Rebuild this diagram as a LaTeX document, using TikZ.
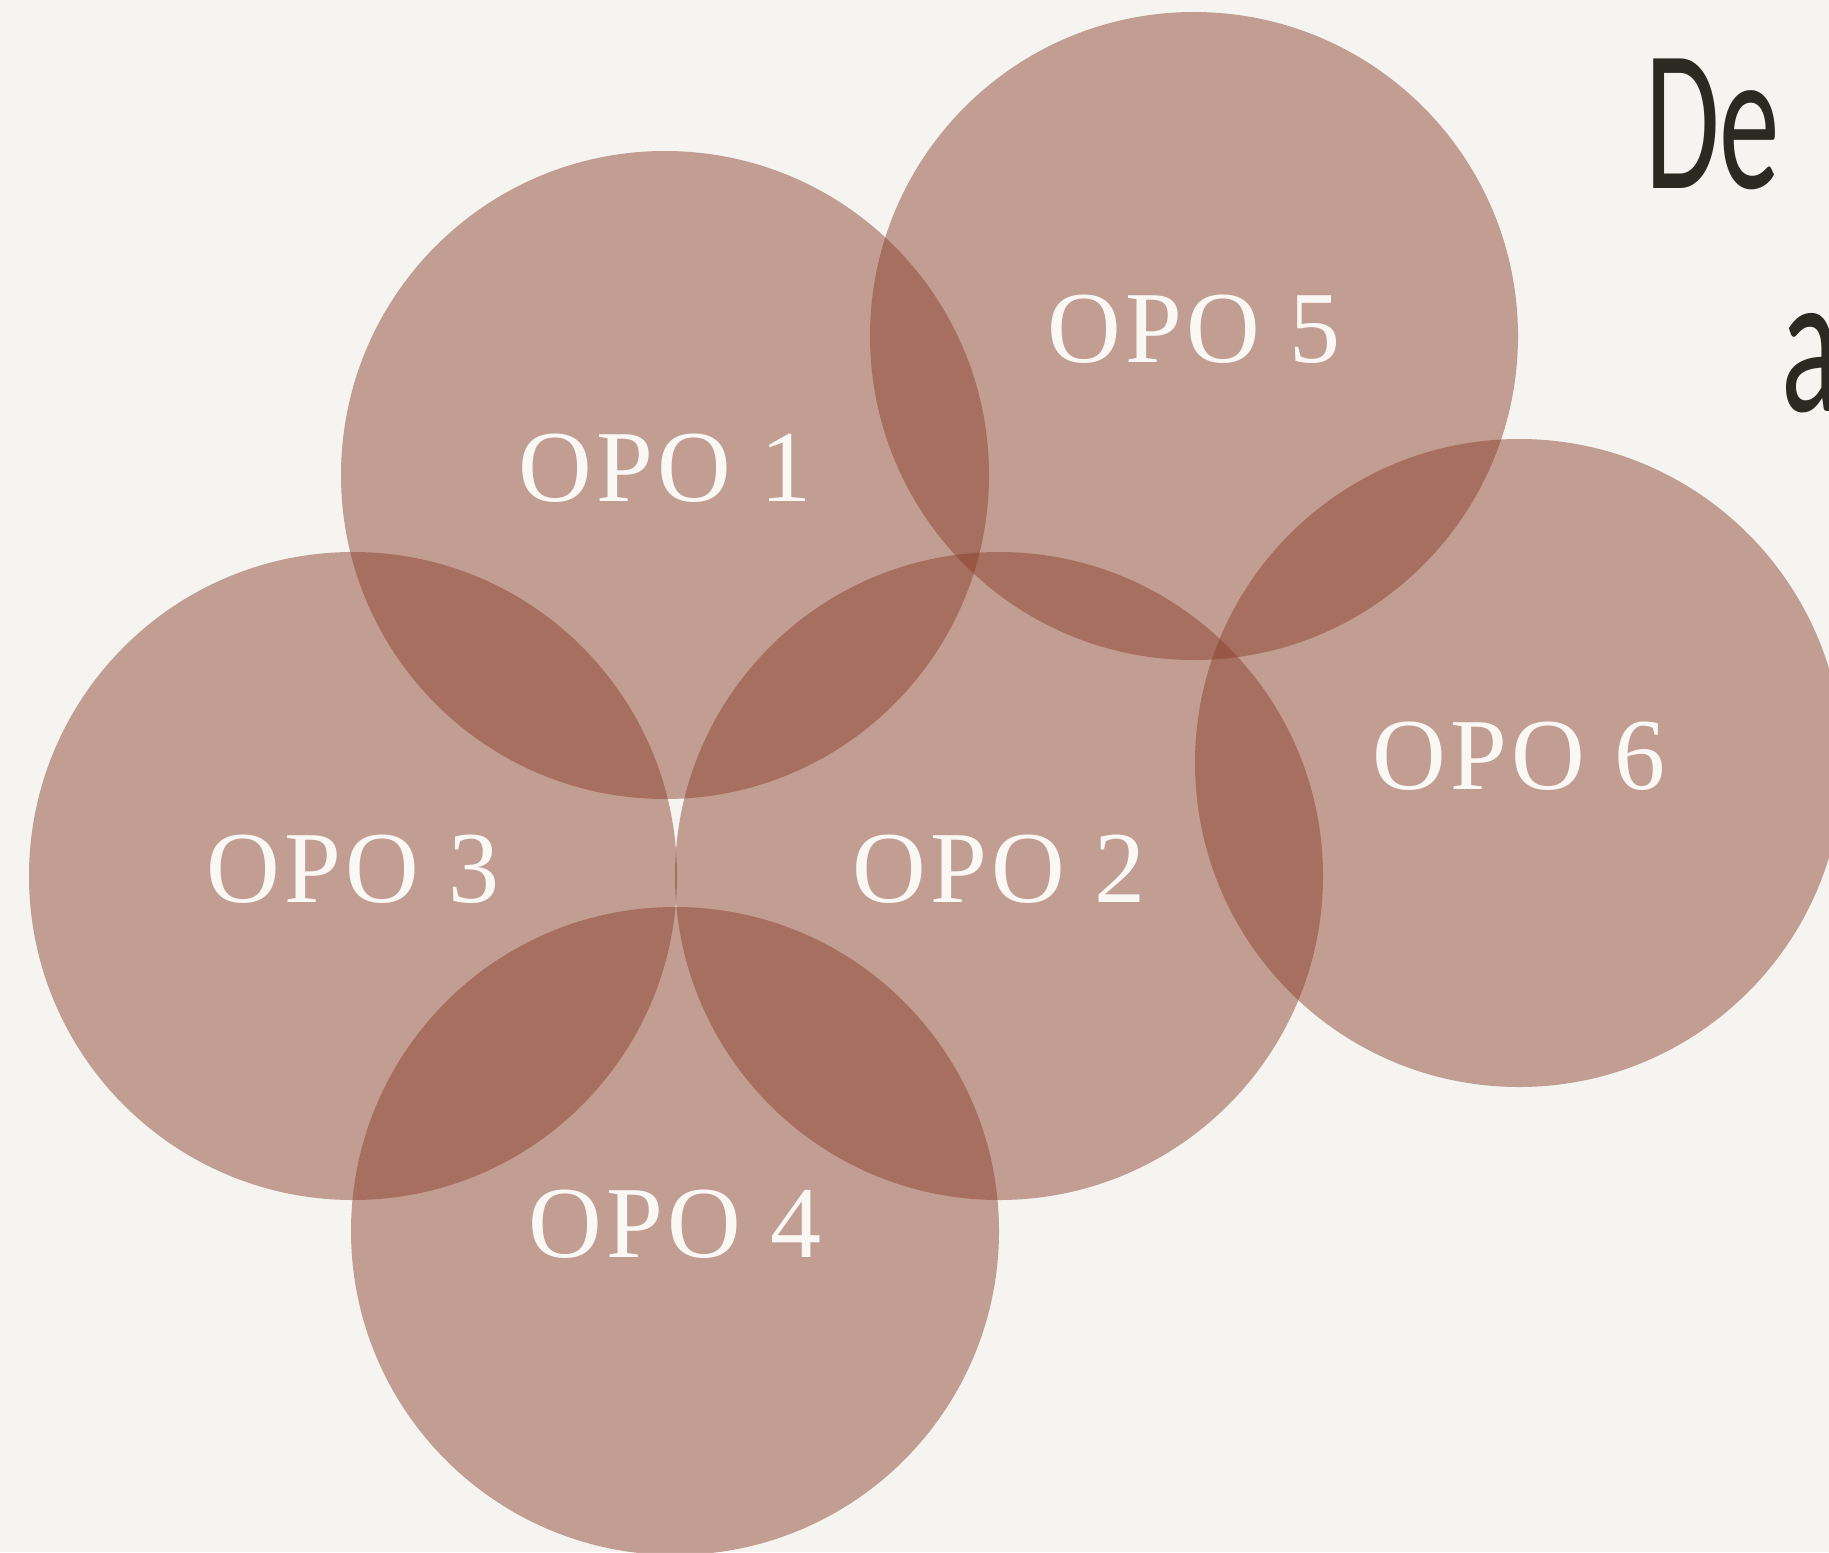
\documentclass[tikz,border=0pt]{standalone}
\usepackage{graphicx}
\usepackage{fontspec}
\setmainfont{Liberation Serif}
\newfontfamily\lblfont[LetterSpace=4.0]{Liberation Serif}
\newfontfamily\handfont{Carlito}
\definecolor{bgcol}{RGB}{245,244,240}
\definecolor{opocol}{RGB}{137,61,40}
\definecolor{lblcol}{RGB}{250,248,245}
\definecolor{inkcol}{RGB}{43,42,34}
\newcommand{\liftlbl}[1]{\raisebox{3.5pt}[\height][\depth]{#1}}
\begin{document}
\begin{tikzpicture}[x=0.5pt,y=-0.5pt,
  opo/.style={circle, fill=opocol, fill opacity=0.47, text opacity=1, text=lblcol,
    minimum size=324pt, inner sep=0pt, font=\lblfont\fontsize{51}{60}\selectfont},
  titletext/.style={anchor=base west, inner sep=0pt, text=inkcol,
    font=\handfont\fontsize{101}{120}\selectfont}]
\useasboundingbox (0,0) rectangle (1829,1552);
\fill[bgcol] (0,0) rectangle (1829,1552);
\clip (0,0) rectangle (1829,1552);
\node[opo] (o1) at (665,475) {\liftlbl{OPO 1}};
\node[opo] (o5) at (1194,336) {\liftlbl{OPO 5}};
\node[opo] (o6) at (1519,763) {\liftlbl{OPO 6}};
\node[opo] (o2) at (999,876) {\liftlbl{OPO 2}};
\node[opo] (o3) at (353,876) {\liftlbl{OPO 3}};
\node[opo] (o4) at (675,1231) {\liftlbl{OPO 4}};
\node[titletext] (t1) at (1645,188) {\scalebox{0.6}[1]{De}};
\node[titletext] (t2) at (1781,411) {\scalebox{0.6}[1]{a}};
\end{tikzpicture}
\end{document}
